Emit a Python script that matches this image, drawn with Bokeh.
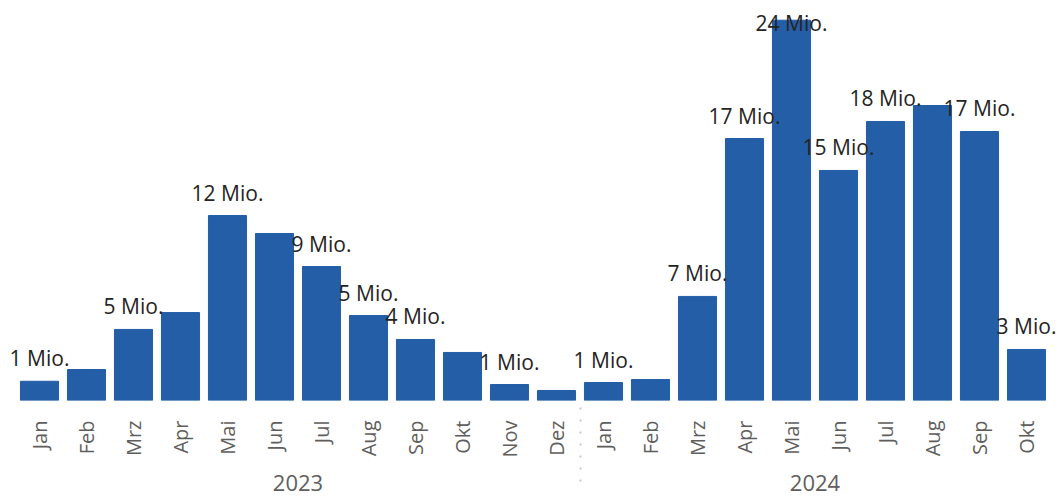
import math
from bokeh.plotting import figure
from bokeh.models import ColumnDataSource, FactorRange, Range1d, LabelSet
from bokeh.embed import file_html
from bokeh.resources import INLINE
from bokeh.core.properties import value

# ---- data ----
years = ["2023", "2024"]
months_2023 = ["Jan", "Feb", "Mrz", "Apr", "Mai", "Jun", "Jul", "Aug", "Sep", "Okt", "Nov", "Dez"]
months_2024 = ["Jan", "Feb", "Mrz", "Apr", "Mai", "Jun", "Jul", "Aug", "Sep", "Okt"]
values_2023 = [1.23, 1.98, 4.54, 5.62, 11.82, 10.67, 8.56, 5.43, 3.90, 3.07, 1.02, 0.64]   # Mio.
values_2024 = [1.15, 1.34, 6.65, 16.74, 24.30, 14.70, 17.83, 18.85, 17.19, 3.26]          # Mio.
show_label_2023 = [1, 0, 1, 0, 1, 0, 1, 1, 1, 0, 1, 0]
show_label_2024 = [1, 0, 1, 1, 1, 1, 1, 0, 1, 1]

# ---- build ----
factors = [(years[0], m) for m in months_2023] + [(years[1], m) for m in months_2024]
values = values_2023 + values_2024
shows = show_label_2023 + show_label_2024
n = len(factors)

W, H = 1059, 496
BORDER_LEFT = 6
STEP = 47.0                      # pixels per category
BORDER_BOTTOM = 96
FRAME_W = W - BORDER_LEFT
FRAME_H = H - BORDER_BOTTOM
Y_TOP = 25.56
px_per = FRAME_H / Y_TOP
pad_pct = (FRAME_W / STEP - n) / n   # side padding so the frame spans the width

label_text = [f"{round(v)} Mio." if s else "" for v, s in zip(values, shows)]
label_y = [min(v, Y_TOP - 45 / px_per) for v in values]

src = ColumnDataSource(dict(x=factors, top=values, ly=label_y, txt=label_text))

BAR = "#235EA7"
GREY = "#605E5C"
SEP = "#c8c8c8"

p = figure(
    x_range=FactorRange(*factors, group_padding=0, range_padding=pad_pct),
    y_range=Range1d(0, Y_TOP),
    width=W, height=H,
    min_border_left=BORDER_LEFT, min_border_right=0,
    min_border_top=0, min_border_bottom=BORDER_BOTTOM,
    y_axis_location=None,
    output_backend="svg", toolbar_location=None,
)
p.vbar(x="x", top="top", width=0.81, source=src, color=BAR)

p.add_layout(LabelSet(x="x", y="ly", text="txt", source=src, y_offset=15,
                      text_align="center", text_baseline="alphabetic",
                      text_font=value("Open Sans"), text_font_size=value("21px"),
                      text_color="#252423"))

p.grid.visible = False
p.outline_line_color = None
p.background_fill_color = "white"
p.border_fill_color = "white"

ax = p.xaxis[0]
ax.axis_line_color = None
ax.major_tick_line_color = None
ax.minor_tick_line_color = None
ax.major_label_orientation = math.pi / 2
ax.major_label_standoff = 14
ax.major_label_text_font = "Open Sans"
ax.major_label_text_font_size = "20px"
ax.major_label_text_color = GREY
ax.group_text_font = "Open Sans"
ax.group_text_font_size = "22px"
ax.group_text_font_style = "normal"
ax.group_text_color = GREY
ax.separator_line_color = SEP
ax.separator_line_dash = "2 10"
ax.separator_line_width = 2

open("out.html", "w").write(file_html(p, INLINE))
